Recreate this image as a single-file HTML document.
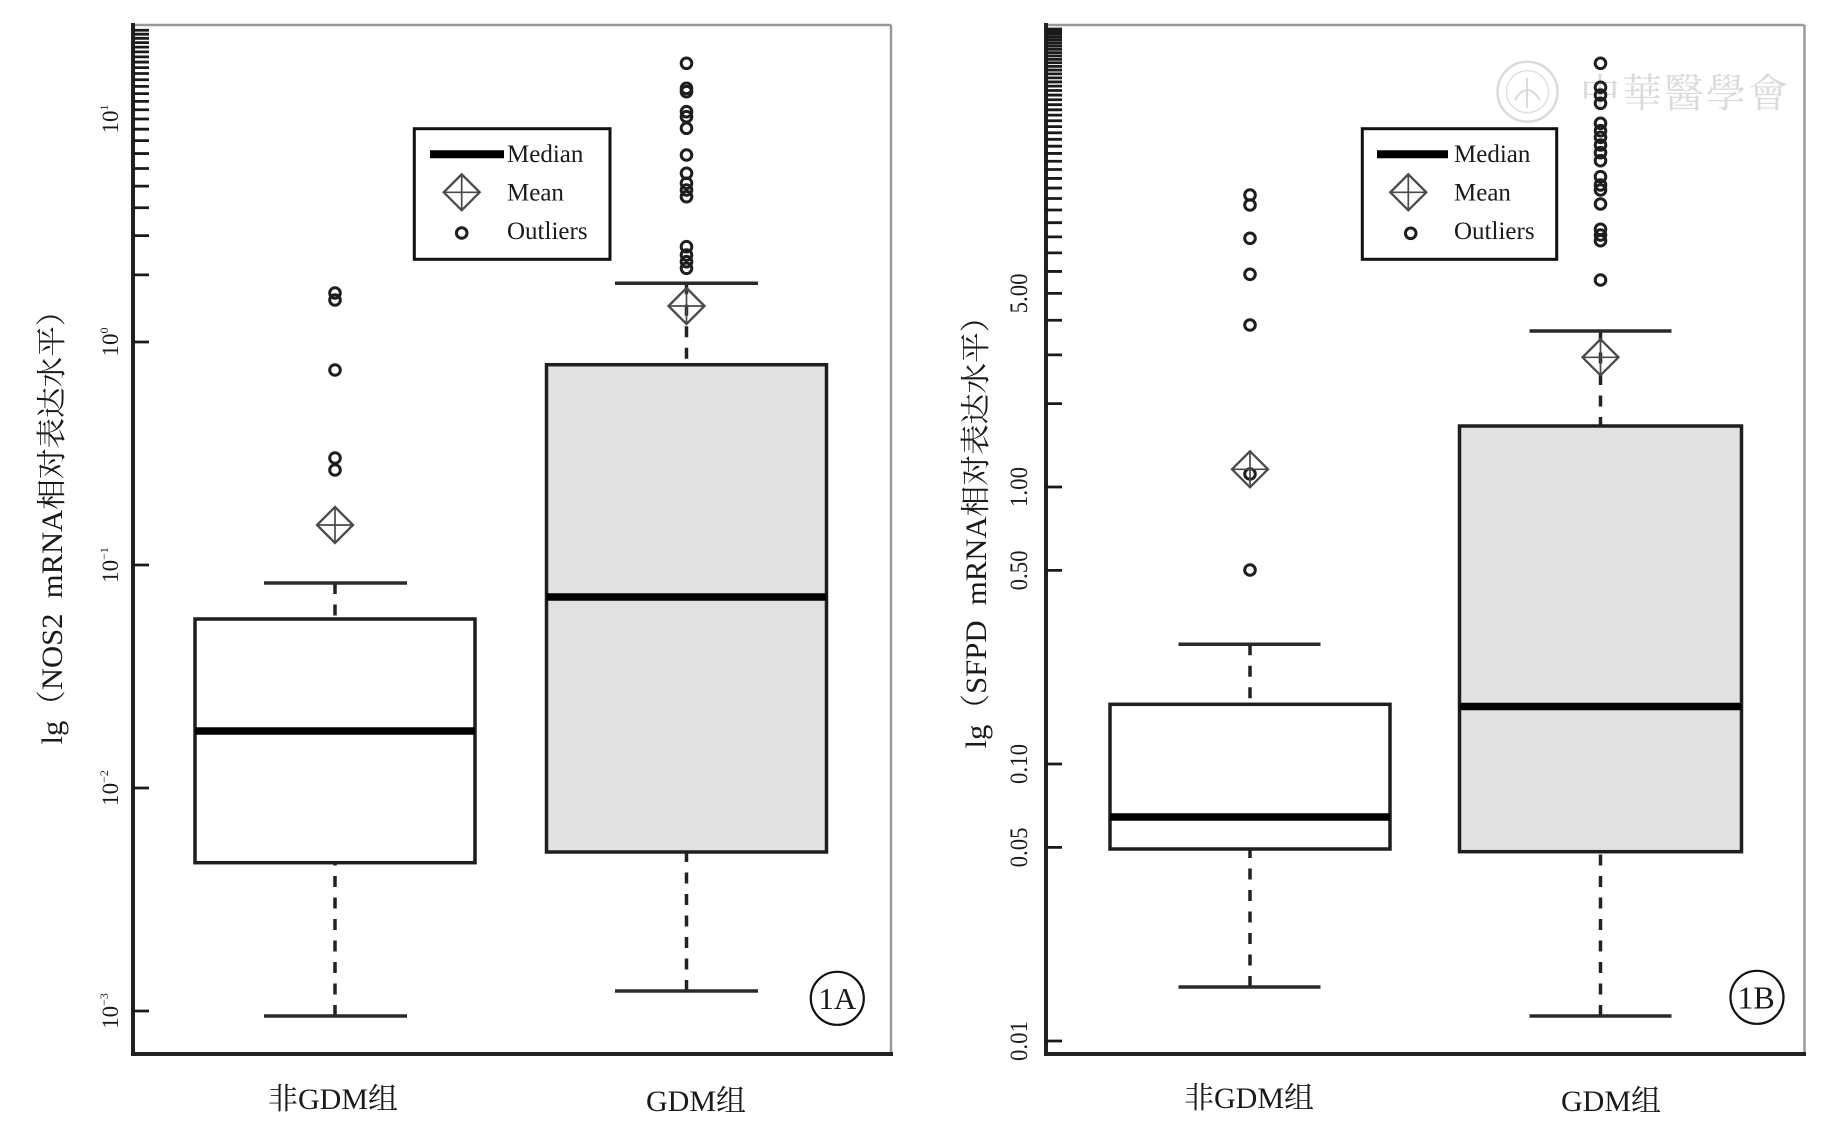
<!DOCTYPE html>
<html><head><meta charset="utf-8"><style>
html,body{margin:0;padding:0;background:#fff;}
svg{display:block;}
text{font-family:"Liberation Serif","Noto Serif CJK SC",serif;fill:#1a1a1a;}
</style></head><body>
<svg width="1838" height="1146" viewBox="0 0 1838 1146" xmlns="http://www.w3.org/2000/svg">
<defs>
  <g id="dm">
    <polygon points="0,-18 18,0 0,18 -18,0" fill="none" stroke="#4a4a4a" stroke-width="2.3"/>
    <path d="M0,-18V18M-18,0H18" stroke="#4a4a4a" stroke-width="1.7" fill="none"/>
  </g>
</defs>
<rect x="0" y="0" width="1838" height="1146" fill="#fff"/>

<!-- watermark -->
<g opacity="0.9">
  <circle cx="1527.5" cy="91.7" r="30" fill="none" stroke="#d6d6d6" stroke-width="2.5"/>
  <circle cx="1527.5" cy="91.7" r="21" fill="none" stroke="#dedede" stroke-width="1.5"/>
  <path d="M1515,100 Q1527,80 1540,100 M1527,78 V108" stroke="#d6d6d6" stroke-width="2" fill="none"/>
  <text x="1580" y="107" font-size="40" letter-spacing="2" style="fill:#d6d6d6;font-family:'Noto Serif CJK TC','Noto Serif CJK SC',serif;">中華醫學會</text>
</g>

<!-- ================= PANEL A ================= -->
<line x1="133" y1="25" x2="891" y2="25" stroke="#999" stroke-width="2.5"/>
<line x1="891" y1="25" x2="891" y2="1054" stroke="#999" stroke-width="2.5"/>
<line x1="133" y1="23" x2="133" y2="1056" stroke="#222" stroke-width="4"/>
<line x1="131" y1="1054" x2="893" y2="1054" stroke="#222" stroke-width="4"/>
<path stroke="#1a1a1a" stroke-width="2.8" fill="none" d="
M133,1011H149 M133,788H149 M133,565H149 M133,342H149
M133,274.87H149 M133,235.6H149 M133,207.74H149 M133,186.13H149 M133,168.47H149 M133,153.54H149 M133,140.61H149 M133,129.2H149 M133,119H149
M133,109.77H149 M133,101.34H149 M133,93.59H149 M133,86.41H149 M133,79.73H149 M133,73.48H149 M133,67.61H149 M133,62.07H149 M133,56.84H149 M133,51.87H149 M133,47.14H149 M133,42.64H149 M133,38.33H149 M133,34.21H149 M133,30.26H149"/>
<g font-size="23">
  <text transform="translate(118,1011) rotate(-90)" text-anchor="middle">10<tspan font-size="12" dy="-10">−3</tspan></text>
  <text transform="translate(118,788) rotate(-90)" text-anchor="middle">10<tspan font-size="12" dy="-10">−2</tspan></text>
  <text transform="translate(118,565) rotate(-90)" text-anchor="middle">10<tspan font-size="12" dy="-10">−1</tspan></text>
  <text transform="translate(118,342) rotate(-90)" text-anchor="middle">10<tspan font-size="12" dy="-10">0</tspan></text>
  <text transform="translate(118,119) rotate(-90)" text-anchor="middle">10<tspan font-size="12" dy="-10">1</tspan></text>
</g>
<text transform="translate(62,520) rotate(-90)" text-anchor="middle" font-size="30" textLength="449" lengthAdjust="spacingAndGlyphs">lg（NOS2&#160;&#160;mRNA相对表达水平）</text>

<!-- box 1 -->
<line x1="335" y1="583" x2="335" y2="619" stroke="#222" stroke-width="3.5" stroke-dasharray="11 10.5"/>
<line x1="335" y1="1016" x2="335" y2="863" stroke="#222" stroke-width="3.5" stroke-dasharray="11 10.5"/>
<line x1="264" y1="583" x2="407" y2="583" stroke="#2a2a2a" stroke-width="3.5"/>
<line x1="264" y1="1016" x2="407" y2="1016" stroke="#2a2a2a" stroke-width="3.5"/>
<rect x="195" y="619" width="280" height="243.7" fill="#fff" stroke="#1e1e1e" stroke-width="3.5"/>
<line x1="195" y1="731" x2="475" y2="731" stroke="#000" stroke-width="7.5"/>
<use href="#dm" x="335" y="525"/>
<g fill="none" stroke="#1e1e1e" stroke-width="3">
  <circle cx="335" cy="293" r="5.3"/><circle cx="335" cy="300" r="5.3"/><circle cx="335" cy="370" r="5.3"/>
  <circle cx="335" cy="458" r="5.3"/><circle cx="335" cy="470" r="5.3"/>
</g>

<!-- box 2 -->
<line x1="686.5" y1="283.3" x2="686.5" y2="364.7" stroke="#222" stroke-width="3.5" stroke-dasharray="11 10.5"/>
<line x1="686.5" y1="991" x2="686.5" y2="852" stroke="#222" stroke-width="3.5" stroke-dasharray="11 10.5"/>
<line x1="615" y1="283.3" x2="758" y2="283.3" stroke="#2a2a2a" stroke-width="3.5"/>
<line x1="615" y1="991" x2="758" y2="991" stroke="#2a2a2a" stroke-width="3.5"/>
<rect x="546.5" y="364.7" width="280" height="487.3" fill="#e1e1e1" stroke="#1e1e1e" stroke-width="3.5"/>
<line x1="546.5" y1="597" x2="826.5" y2="597" stroke="#000" stroke-width="7.5"/>
<use href="#dm" x="686.5" y="306"/>
<g fill="none" stroke="#1e1e1e" stroke-width="3">
  <circle cx="686.5" cy="63.3" r="5.3"/><circle cx="686.5" cy="88.3" r="5.3"/><circle cx="686.5" cy="91.7" r="5.3"/>
  <circle cx="686.5" cy="111.7" r="5.3"/><circle cx="686.5" cy="116.7" r="5.3"/><circle cx="686.5" cy="128.3" r="5.3"/>
  <circle cx="686.5" cy="155" r="5.3"/><circle cx="686.5" cy="173.3" r="5.3"/><circle cx="686.5" cy="183.3" r="5.3"/>
  <circle cx="686.5" cy="190" r="5.3"/><circle cx="686.5" cy="196.7" r="5.3"/><circle cx="686.5" cy="246.7" r="5.3"/>
  <circle cx="686.5" cy="255" r="5.3"/><circle cx="686.5" cy="261.7" r="5.3"/><circle cx="686.5" cy="268.3" r="5.3"/>
</g>

<!-- legend A -->
<rect x="414.3" y="128.7" width="195.7" height="130.6" fill="#fff" stroke="#111" stroke-width="3"/>
<line x1="430" y1="154.3" x2="504" y2="154.3" stroke="#000" stroke-width="8"/>
<use href="#dm" x="461.7" y="192.3"/>
<circle cx="461.7" cy="233" r="5.3" fill="none" stroke="#1e1e1e" stroke-width="3"/>
<g font-size="25">
  <text x="507" y="162">Median</text>
  <text x="507" y="200.5">Mean</text>
  <text x="507" y="239">Outliers</text>
</g>

<circle cx="837.3" cy="998.3" r="26.5" fill="none" stroke="#111" stroke-width="2.2"/>
<text x="837.3" y="1009" font-size="31" text-anchor="middle">1A</text>

<g font-size="30" text-anchor="middle">
  <text x="333" y="1109">非GDM组</text>
  <text x="696" y="1111">GDM组</text>
</g>

<!-- ================= PANEL B ================= -->
<line x1="1046" y1="25" x2="1804.5" y2="25" stroke="#999" stroke-width="2.5"/>
<line x1="1804.5" y1="25" x2="1804.5" y2="1054" stroke="#999" stroke-width="2.5"/>
<line x1="1046" y1="23" x2="1046" y2="1056" stroke="#222" stroke-width="4"/>
<line x1="1044" y1="1054" x2="1806" y2="1054" stroke="#222" stroke-width="4"/>
<path stroke="#1a1a1a" stroke-width="2.8" fill="none" d="
M1046,1041H1062 M1046,847.39H1062 M1046,764H1062 M1046,570.39H1062 M1046,487H1062
M1046,403.61H1062 M1046,354.84H1062 M1046,320.23H1062 M1046,293.39H1062 M1046,271.45H1062 M1046,252.91H1062 M1046,236.84H1062 M1046,222.68H1062 M1046,210H1062
M1046,198.53H1062 M1046,188.07H1062 M1046,178.44H1062 M1046,169.52H1062 M1046,161.22H1062 M1046,153.46H1062 M1046,146.17H1062 M1046,139.29H1062 M1046,132.79H1062 M1046,126.61H1062
M1046,120.75H1062 M1046,115.15H1062 M1046,109.8H1062 M1046,104.68H1062 M1046,99.77H1062 M1046,95.05H1062 M1046,90.51H1062 M1046,86.14H1062 M1046,81.92H1062 M1046,77.84H1062
M1046,73.89H1062 M1046,70.07H1062 M1046,66.37H1062 M1046,62.78H1062 M1046,59.29H1062 M1046,55.9H1062 M1046,52.61H1062 M1046,49.4H1062 M1046,46.28H1062 M1046,43.23H1062
M1046,40.26H1062 M1046,37.36H1062 M1046,34.53H1062 M1046,31.76H1062 M1046,29.06H1062"/>
<g font-size="25">
  <text transform="translate(1027,1041) rotate(-90)" text-anchor="middle" textLength="40" lengthAdjust="spacingAndGlyphs">0.01</text>
  <text transform="translate(1027,847.4) rotate(-90)" text-anchor="middle" textLength="40" lengthAdjust="spacingAndGlyphs">0.05</text>
  <text transform="translate(1027,764) rotate(-90)" text-anchor="middle" textLength="40" lengthAdjust="spacingAndGlyphs">0.10</text>
  <text transform="translate(1027,570.4) rotate(-90)" text-anchor="middle" textLength="40" lengthAdjust="spacingAndGlyphs">0.50</text>
  <text transform="translate(1027,487) rotate(-90)" text-anchor="middle" textLength="40" lengthAdjust="spacingAndGlyphs">1.00</text>
  <text transform="translate(1027,293.4) rotate(-90)" text-anchor="middle" textLength="40" lengthAdjust="spacingAndGlyphs">5.00</text>
</g>
<text transform="translate(986,525) rotate(-90)" text-anchor="middle" font-size="30" textLength="447" lengthAdjust="spacingAndGlyphs">lg（SFPD&#160;&#160;mRNA相对表达水平）</text>

<!-- box B1 -->
<line x1="1250" y1="644.3" x2="1250" y2="704.3" stroke="#222" stroke-width="3.5" stroke-dasharray="11 10.5"/>
<line x1="1250" y1="987" x2="1250" y2="849" stroke="#222" stroke-width="3.5" stroke-dasharray="11 10.5"/>
<line x1="1178.5" y1="644.3" x2="1320.5" y2="644.3" stroke="#2a2a2a" stroke-width="3.5"/>
<line x1="1178.5" y1="987" x2="1320.5" y2="987" stroke="#2a2a2a" stroke-width="3.5"/>
<rect x="1110" y="704.3" width="280" height="144.7" fill="#fff" stroke="#1e1e1e" stroke-width="3.5"/>
<line x1="1110" y1="817" x2="1390" y2="817" stroke="#000" stroke-width="7.5"/>
<g fill="none" stroke="#1e1e1e" stroke-width="3">
  <circle cx="1250" cy="195" r="5.3"/><circle cx="1250" cy="205" r="5.3"/><circle cx="1250" cy="238.3" r="5.3"/>
  <circle cx="1250" cy="274.3" r="5.3"/><circle cx="1250" cy="325" r="5.3"/><circle cx="1250" cy="474" r="5.3"/>
  <circle cx="1250" cy="570" r="5.3"/>
</g>
<use href="#dm" x="1250" y="469.3"/>

<!-- box B2 -->
<line x1="1600.5" y1="331" x2="1600.5" y2="426" stroke="#222" stroke-width="3.5" stroke-dasharray="11 10.5"/>
<line x1="1600.5" y1="1016" x2="1600.5" y2="851.7" stroke="#222" stroke-width="3.5" stroke-dasharray="11 10.5"/>
<line x1="1529.5" y1="331" x2="1671.5" y2="331" stroke="#2a2a2a" stroke-width="3.5"/>
<line x1="1529.5" y1="1016" x2="1671.5" y2="1016" stroke="#2a2a2a" stroke-width="3.5"/>
<rect x="1459.5" y="426" width="282" height="425.7" fill="#e1e1e1" stroke="#1e1e1e" stroke-width="3.5"/>
<line x1="1459.5" y1="706.5" x2="1741.5" y2="706.5" stroke="#000" stroke-width="7.5"/>
<use href="#dm" x="1600.5" y="357.3"/>
<g fill="none" stroke="#1e1e1e" stroke-width="3">
  <circle cx="1600.5" cy="63.3" r="5.3"/><circle cx="1600.5" cy="87.3" r="5.3"/><circle cx="1600.5" cy="95" r="5.3"/>
  <circle cx="1600.5" cy="103.3" r="5.3"/><circle cx="1600.5" cy="123.3" r="5.3"/><circle cx="1600.5" cy="130.7" r="5.3"/>
  <circle cx="1600.5" cy="137.3" r="5.3"/><circle cx="1600.5" cy="145" r="5.3"/><circle cx="1600.5" cy="152.7" r="5.3"/>
  <circle cx="1600.5" cy="160.7" r="5.3"/><circle cx="1600.5" cy="176.7" r="5.3"/><circle cx="1600.5" cy="185" r="5.3"/>
  <circle cx="1600.5" cy="190" r="5.3"/><circle cx="1600.5" cy="204" r="5.3"/><circle cx="1600.5" cy="229.3" r="5.3"/>
  <circle cx="1600.5" cy="235" r="5.3"/><circle cx="1600.5" cy="240.7" r="5.3"/><circle cx="1600.5" cy="280" r="5.3"/>
</g>

<!-- legend B -->
<rect x="1362.3" y="128.7" width="194.4" height="130.6" fill="#fff" stroke="#111" stroke-width="3"/>
<line x1="1377" y1="154.3" x2="1448" y2="154.3" stroke="#000" stroke-width="8"/>
<use href="#dm" x="1408.3" y="192.3"/>
<circle cx="1410.7" cy="233.3" r="5.3" fill="none" stroke="#1e1e1e" stroke-width="3"/>
<g font-size="25">
  <text x="1454" y="162">Median</text>
  <text x="1454" y="200.5">Mean</text>
  <text x="1454" y="239">Outliers</text>
</g>

<circle cx="1757" cy="997.3" r="26.5" fill="none" stroke="#111" stroke-width="2.2"/>
<text x="1756" y="1008.5" font-size="32" text-anchor="middle">1B</text>

<g font-size="30" text-anchor="middle">
  <text x="1249" y="1108">非GDM组</text>
  <text x="1611" y="1111">GDM组</text>
</g>
</svg>
</body></html>
